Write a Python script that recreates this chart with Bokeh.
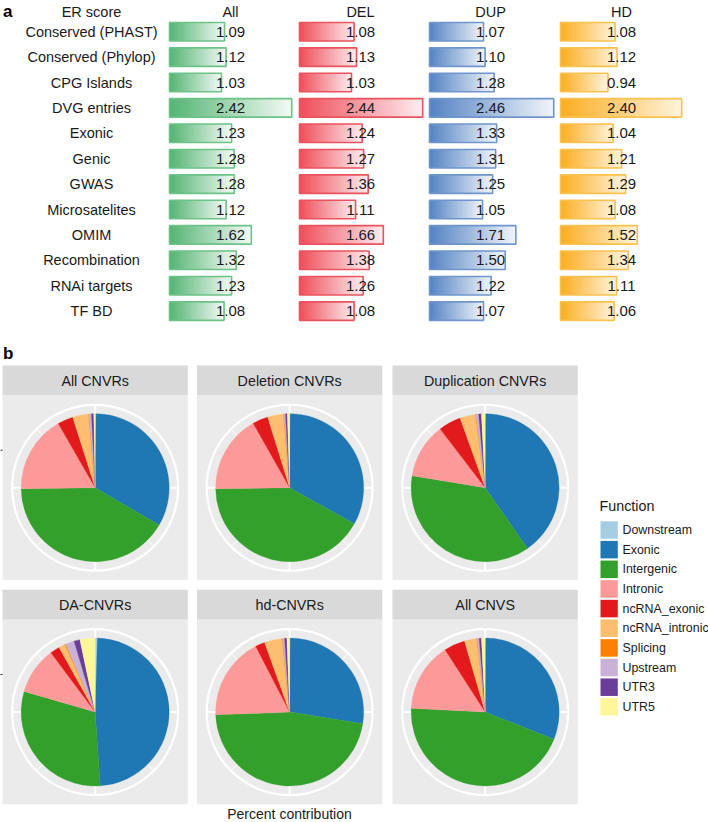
import math
from bokeh.plotting import figure
from bokeh.models import Range1d, ColumnDataSource
from bokeh.layouts import column
from bokeh.embed import file_html
from bokeh.resources import INLINE
from bokeh.core.properties import value

FONT = "Liberation Sans"

# ---------------- Panel a data ----------------
er_categories = ["Conserved (PHAST)", "Conserved (Phylop)", "CPG Islands", "DVG entries",
                 "Exonic", "Genic", "GWAS", "Microsatelites", "OMIM", "Recombination",
                 "RNAi targets", "TF BD"]
er_groups = ["All", "DEL", "DUP", "HD"]
er_all = [1.09, 1.12, 1.03, 2.42, 1.23, 1.28, 1.28, 1.12, 1.62, 1.32, 1.23, 1.08]
er_del = [1.08, 1.13, 1.03, 2.44, 1.24, 1.27, 1.36, 1.11, 1.66, 1.38, 1.26, 1.08]
er_dup = [1.07, 1.10, 1.28, 2.46, 1.33, 1.31, 1.25, 1.05, 1.71, 1.50, 1.22, 1.07]
er_hd = [1.08, 1.12, 0.94, 2.40, 1.04, 1.21, 1.29, 1.08, 1.52, 1.34, 1.11, 1.06]

# ---------------- Panel b data ----------------
functions = ["Downstream", "Exonic", "Intergenic", "Intronic", "ncRNA_exonic",
             "ncRNA_intronic", "Splicing", "Upstream", "UTR3", "UTR5"]
facet_titles = ["All CNVRs", "Deletion CNVRs", "Duplication CNVRs",
                "DA-CNVRs", "hd-CNVRs", "All CNVS"]
pct_all_cnvrs = [0.2, 33.2, 41.4, 16.9, 3.4, 3.5, 0.1, 0.5, 0.5, 0.3]
pct_del_cnvrs = [0.1, 33.0, 41.7, 17.0, 3.4, 3.5, 0.1, 0.3, 0.4, 0.5]
pct_dup_cnvrs = [0.1, 40.2, 37.3, 12.0, 4.9, 3.4, 0.1, 0.6, 0.6, 0.8]
pct_da_cnvrs = [0.5, 48.4, 30.6, 10.3, 2.1, 1.4, 0.2, 1.9, 1.3, 3.3]
pct_hd_cnvrs = [0.1, 27.4, 46.9, 18.0, 2.1, 3.9, 0.1, 0.4, 0.5, 0.6]
pct_all_cnvs = [0.1, 30.9, 44.8, 15.1, 4.6, 2.7, 0.1, 0.4, 0.5, 0.8]

# ---------------- styles ----------------
func_colors = ["#a6cee3", "#1f78b4", "#33a02c", "#fb9a99", "#e31a1c",
               "#fdbf6f", "#ff7f00", "#cab2d6", "#6a3d9a", "#fff599"]
grad_left = ["#55b574", "#ef4f5b", "#5584c3", "#fbae22"]
grad_right = ["#f2f9f4", "#fdecee", "#f0f4fa", "#fff3dc"]
bar_border = ["#6cc287", "#e9535d", "#6f96cc", "#f9c14e"]
TXT = "#1a1a1a"

W = 708
HA = 338
HB = 484


def hex2rgb(h):
    h = h.lstrip("#")
    return tuple(int(h[i:i + 2], 16) for i in (0, 2, 4))


def lerp(c1, c2, t):
    a, b = hex2rgb(c1), hex2rgb(c2)
    return "#%02x%02x%02x" % tuple(int(round(a[i] + (b[i] - a[i]) * t)) for i in range(3))


# ================= Panel a =================
PXU = 50.5                       # px per ER unit
ROW1_Y, ROW_STEP = 31.2, 25.4    # px
TOP_A = 0.0
BOT_A = TOP_A + HA


def row_of(py):
    return 1 + (py - ROW1_Y) / ROW_STEP


pa = figure(width=W, height=HA, x_range=Range1d(0, W / PXU),
            y_range=Range1d(row_of(BOT_A), row_of(TOP_A)),
            output_backend="svg", toolbar_location=None,
            x_axis_location=None, y_axis_location=None, min_border=0)
pa.grid.visible = False
pa.outline_line_color = None
pa.background_fill_color = "white"
pa.border_fill_color = "white"

col_x0 = [x / PXU for x in (169, 299, 429, 560)]
label_dx = 61 / PXU
row_label_x = 91 / PXU
header_row = row_of(11.7)
bar_half = 0.5 * 18.5 / ROW_STEP

series = [er_all, er_del, er_dup, er_hd]
rows = [i + 1 for i in range(len(er_categories))]

N_SEG = 60
seg = dict(left=[], right=[], top=[], bottom=[], color=[])
outl = dict(left=[], right=[], top=[], bottom=[], color=[])
vlab = dict(x=[], y=[], text=[])
for gi, vals in enumerate(series):
    x0 = col_x0[gi]
    for r, v in zip(rows, vals):
        # painter's gradient: each layer runs from its start to the bar end
        for k in range(N_SEG):
            t = k / (N_SEG - 1)
            seg["left"].append(x0 + v * k / N_SEG)
            seg["right"].append(x0 + v)
            seg["top"].append(r - bar_half)
            seg["bottom"].append(r + bar_half)
            seg["color"].append(lerp(grad_left[gi], grad_right[gi], t))
        outl["left"].append(x0)
        outl["right"].append(x0 + v)
        outl["top"].append(r - bar_half)
        outl["bottom"].append(r + bar_half)
        outl["color"].append(bar_border[gi])
        vlab["x"].append(x0 + label_dx)
        vlab["y"].append(r)
        vlab["text"].append("%.2f" % v)

pa.quad(left="left", right="right", top="top", bottom="bottom", fill_color="color",
        line_color=None, source=ColumnDataSource(seg))
pa.quad(left="left", right="right", top="top", bottom="bottom", fill_color=None,
        line_color="color", line_width=1.6, source=ColumnDataSource(outl))
pa.text(x="x", y="y", text="text", source=ColumnDataSource(vlab),
        text_font=value(FONT), text_font_size="15px", text_color=TXT,
        text_align="center", text_baseline="middle")

pa.text(x=[row_label_x] * len(er_categories), y=rows, text=er_categories,
        text_font=value(FONT), text_font_size="14.5px", text_color=TXT,
        text_align="center", text_baseline="middle")
pa.text(x=[row_label_x], y=[header_row], text=["ER score"],
        text_font=value(FONT), text_font_size="14.5px", text_color=TXT,
        text_align="center", text_baseline="middle")
pa.text(x=[x + label_dx for x in col_x0], y=[header_row] * 4, text=er_groups,
        text_font=value(FONT), text_font_size="14.5px", text_color=TXT,
        text_align="center", text_baseline="middle")
pa.text(x=[2.5 / PXU], y=[row_of(10.5)], text=["a"], text_font=value(FONT),
        text_font_size="17px", text_font_style="bold", text_color="black",
        text_align="left", text_baseline="middle")

# ================= Panel b =================
TOP_B = BOT_A
pb = figure(width=W, height=HB, x_range=Range1d(0, W),
            y_range=Range1d(TOP_B + HB, TOP_B),
            output_backend="svg", toolbar_location=None,
            x_axis_location=None, y_axis_location=None, min_border=0)
pb.grid.visible = False
pb.outline_line_color = None
pb.background_fill_color = "white"
pb.border_fill_color = "white"

PANEL_X0 = [2.0, 196.5, 392.0]
PANEL_W = 185.3
STRIP_Y0 = [365.0, 589.3]
STRIP_H = 30.0
PANEL_H = 184.5
R_PIE = 74.0
R_RING = 83.0

facet_values = [pct_all_cnvrs, pct_del_cnvrs, pct_dup_cnvrs,
                pct_da_cnvrs, pct_hd_cnvrs, pct_all_cnvs]

strip = dict(x=[], y=[], w=[], h=[])
panel = dict(x=[], y=[], w=[], h=[])
stxt = dict(x=[], y=[], text=[])
centers = []
for fi, title in enumerate(facet_titles):
    ci, ri = fi % 3, fi // 3
    xc = PANEL_X0[ci] + PANEL_W / 2
    sy = STRIP_Y0[ri] + STRIP_H / 2
    py = STRIP_Y0[ri] + STRIP_H + PANEL_H / 2
    strip["x"].append(xc); strip["y"].append(sy); strip["w"].append(PANEL_W); strip["h"].append(STRIP_H)
    panel["x"].append(xc); panel["y"].append(py); panel["w"].append(PANEL_W); panel["h"].append(PANEL_H)
    stxt["x"].append(xc); stxt["y"].append(sy + 0.5); stxt["text"].append(title)
    centers.append((xc, py))

pb.rect(x="x", y="y", width="w", height="h", fill_color="#d9d9d9", line_color=None,
        source=ColumnDataSource(strip))
pb.rect(x="x", y="y", width="w", height="h", fill_color="#ebebeb", line_color=None,
        source=ColumnDataSource(panel))
pb.text(x="x", y="y", text="text", source=ColumnDataSource(stxt), text_font=value(FONT),
        text_font_size="14.3px", text_color=TXT, text_align="center", text_baseline="middle")

# polar grid
maj = dict(x0=[], y0=[], x1=[], y1=[])
mnr = dict(x0=[], y0=[], x1=[], y1=[])
for (cx, cy) in centers:
    for j in range(8):
        th = j * math.pi / 4
        d = maj if j % 2 == 0 else mnr
        d["x0"].append(cx); d["y0"].append(cy)
        d["x1"].append(cx + R_RING * math.sin(th))
        d["y1"].append(cy - R_RING * math.cos(th))
pb.segment(x0="x0", y0="y0", x1="x1", y1="y1", line_color="white", line_width=2.0,
           source=ColumnDataSource(maj))
pb.segment(x0="x0", y0="y0", x1="x1", y1="y1", line_color="white", line_width=1.0,
           source=ColumnDataSource(mnr))
pb.circle(x=[c[0] for c in centers], y=[c[1] for c in centers], radius=R_RING,
          fill_color=None, line_color="white", line_width=2.2)

# y-axis ticks at the left of left-column panels
tk_y = [centers[0][1] - 37.5, centers[3][1] - 37.5]
pb.segment(x0=[PANEL_X0[0] - 2.6] * 2, y0=tk_y, x1=[PANEL_X0[0]] * 2, y1=tk_y,
           line_color="#333333", line_width=1.1)

# pies
wd = dict(x=[], y=[], sa=[], ea=[], color=[])
for (cx, cy), vals in zip(centers, facet_values):
    tot = sum(vals)
    cum = 0.0
    for v, col in zip(vals, func_colors):
        th1 = 2 * math.pi * cum / tot
        cum += v
        th2 = 2 * math.pi * cum / tot
        wd["x"].append(cx); wd["y"].append(cy)
        wd["sa"].append(math.pi / 2 - th2)
        wd["ea"].append(math.pi / 2 - th1)
        wd["color"].append(col)
pb.wedge(x="x", y="y", radius=R_PIE, start_angle="sa", end_angle="ea",
         direction="anticlock", fill_color="color", line_color="color", line_width=0.3,
         source=ColumnDataSource(wd))

pb.text(x=[2.5], y=[352.5], text=["b"], text_font=value(FONT), text_font_size="17px",
        text_font_style="bold", text_color="black", text_align="left", text_baseline="middle")
pb.text(x=[289], y=[813.5], text=["Percent contribution"], text_font=value(FONT),
        text_font_size="14px", text_color=TXT, text_align="center", text_baseline="middle")

# legend
LEG_X0, KEY_W, KEY_H = 600.0, 17.3, 17.5
KEY_Y0, KEY_STEP = 529.5, 19.65
pb.text(x=[599], y=[505], text=["Function"], text_font=value(FONT), text_font_size="14.3px",
        text_color=TXT, text_align="left", text_baseline="middle")
ky = [KEY_Y0 + i * KEY_STEP for i in range(len(functions))]
pb.rect(x=[LEG_X0 + KEY_W / 2] * len(functions), y=ky, width=KEY_W, height=KEY_H,
        fill_color=func_colors, line_color=None)
pb.text(x=[622] * len(functions), y=ky, text=functions, text_font=value(FONT),
        text_font_size="12.4px", text_color=TXT, text_align="left", text_baseline="middle")

layout = column(pa, pb, spacing=0)
open("out.html", "w").write(file_html(layout, INLINE))
